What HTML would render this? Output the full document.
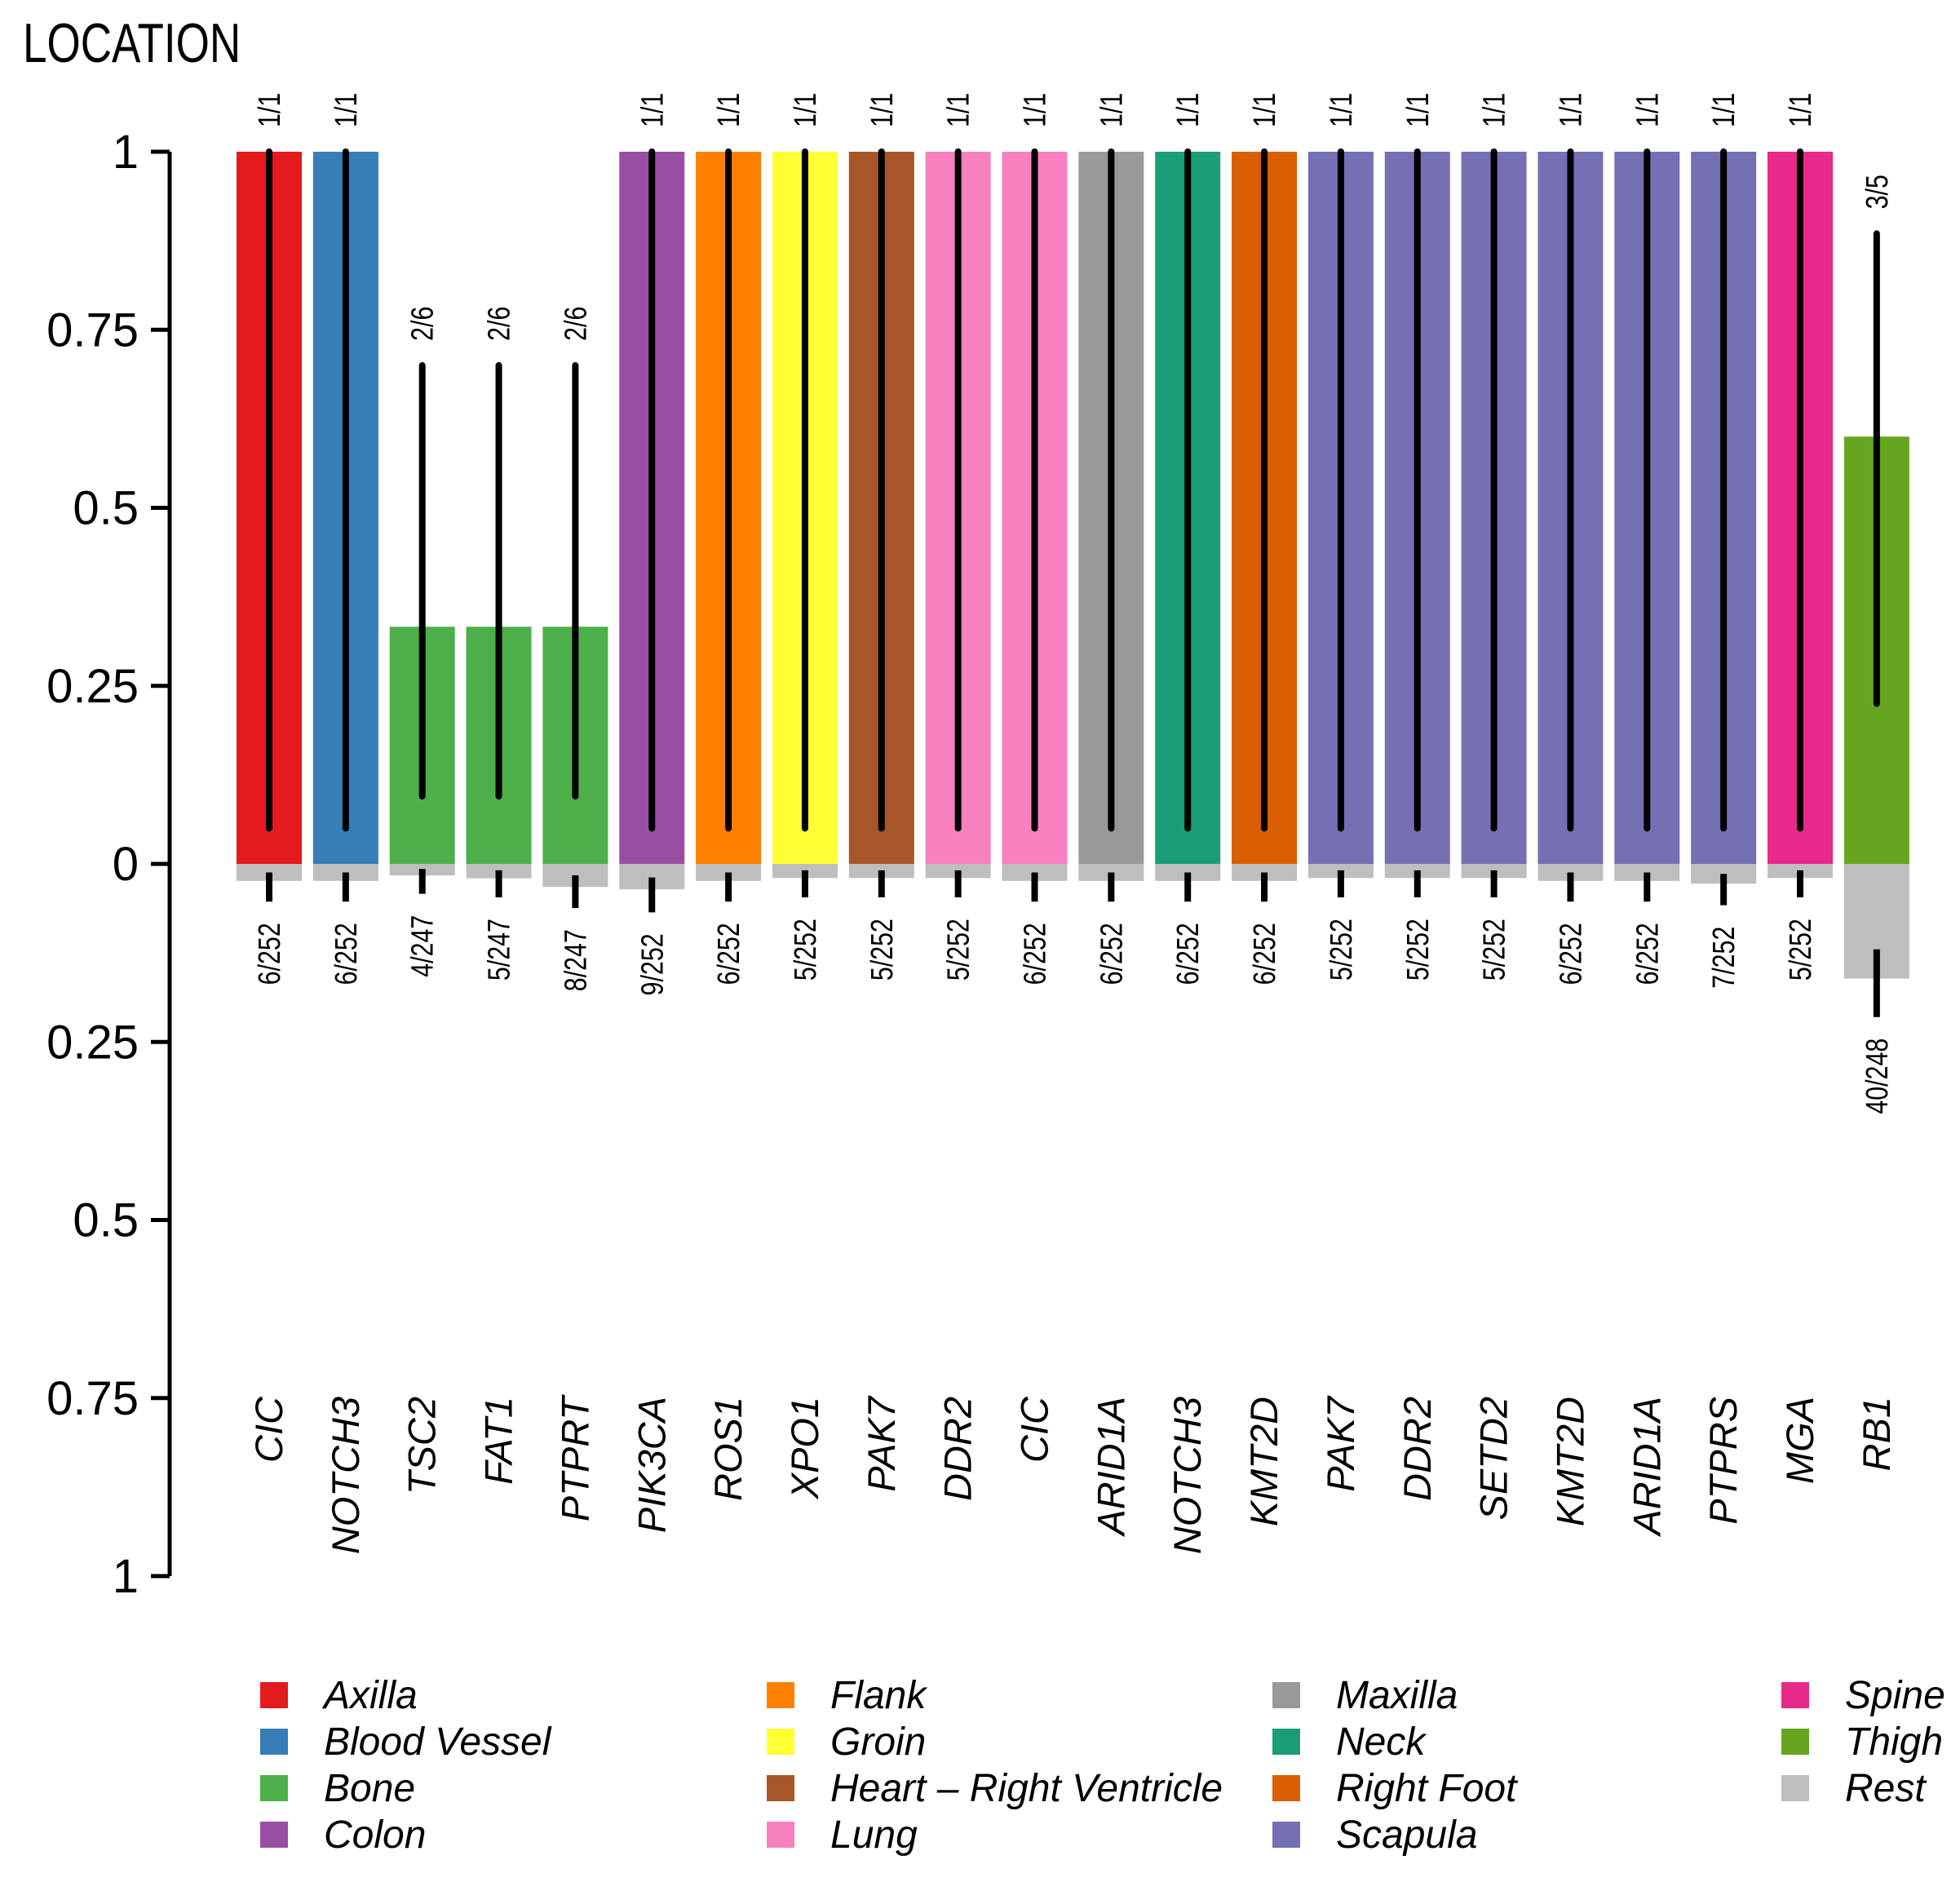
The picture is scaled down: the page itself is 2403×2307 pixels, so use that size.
<!DOCTYPE html>
<html><head><meta charset="utf-8">
<style>
html,body{margin:0;padding:0;background:#fff;}
svg{display:block;font-family:"Liberation Sans",sans-serif;}
</style></head>
<body>
<svg id="chart" width="2403" height="2307" viewBox="0 0 2403 2307">
<text x="28" y="76" font-size="68" transform="translate(28 0) scale(0.78 1) translate(-28 0)">LOCATION</text>
<g id="axis"></g>
<g id="bars"></g>
<g id="legend"></g>
</svg>
<script>
const genes = ["CIC","NOTCH3","TSC2","FAT1","PTPRT","PIK3CA","ROS1","XPO1","PAK7","DDR2","CIC","ARID1A","NOTCH3","KMT2D","PAK7","DDR2","SETD2","KMT2D","ARID1A","PTPRS","MGA","RB1"];
const locations = ["Axilla","Blood Vessel","Bone","Bone","Bone","Colon","Flank","Groin","Heart – Right Ventricle","Lung","Lung","Maxilla","Neck","Right Foot","Scapula","Scapula","Scapula","Scapula","Scapula","Scapula","Spine","Thigh"];
const upperValues = [1,1,0.333,0.333,0.333,1,1,1,1,1,1,1,1,1,1,1,1,1,1,1,1,0.6];
const upperLow = [0.05,0.05,0.095,0.095,0.095,0.05,0.05,0.05,0.05,0.05,0.05,0.05,0.05,0.05,0.05,0.05,0.05,0.05,0.05,0.05,0.05,0.225];
const upperHigh = [1,1,0.70,0.70,0.70,1,1,1,1,1,1,1,1,1,1,1,1,1,1,1,1,0.885];
const upperLabels = ["1/1","1/1","2/6","2/6","2/6","1/1","1/1","1/1","1/1","1/1","1/1","1/1","1/1","1/1","1/1","1/1","1/1","1/1","1/1","1/1","1/1","3/5"];
const lowerValues = [0.0238,0.0238,0.0162,0.0202,0.0324,0.0357,0.0238,0.0198,0.0198,0.0198,0.0238,0.0238,0.0238,0.0238,0.0198,0.0198,0.0198,0.0238,0.0238,0.0278,0.0198,0.161];
const lowerLow = [0.012,0.012,0.007,0.009,0.016,0.019,0.012,0.009,0.009,0.009,0.012,0.012,0.012,0.012,0.009,0.009,0.009,0.012,0.012,0.014,0.009,0.12];
const lowerHigh = [0.053,0.053,0.042,0.047,0.062,0.068,0.053,0.047,0.047,0.047,0.053,0.053,0.053,0.053,0.047,0.047,0.047,0.053,0.053,0.058,0.047,0.215];
const lowerLabels = ["6/252","6/252","4/247","5/247","8/247","9/252","6/252","5/252","5/252","5/252","6/252","6/252","6/252","6/252","5/252","5/252","5/252","6/252","6/252","7/252","5/252","40/248"];
const tickValues = [1,0.75,0.5,0.25,0,-0.25,-0.5,-0.75,-1];
const tickLabels = ["1","0.75","0.5","0.25","0","0.25","0.5","0.75","1"];
const legendNames = ["Axilla","Blood Vessel","Bone","Colon","Flank","Groin","Heart – Right Ventricle","Lung","Maxilla","Neck","Right Foot","Scapula","Spine","Thigh","Rest"];
const legendColors = ["#E41A1C","#377EB8","#4DAF4A","#984EA3","#FF7F00","#FFFF33","#A65628","#F781BF","#999999","#1B9E77","#D95F02","#7570B3","#E7298A","#66A61E","#BEBEBE"];

const NS="http://www.w3.org/2000/svg";
const Y0=1059, YS=873;
const y = v => Y0 - v*YS;
const x = i => 330 + i*93.85;
const BW = 80;
function mk(tag, attrs, parent){const e=document.createElementNS(NS,tag);for(const k in attrs)e.setAttribute(k,attrs[k]);parent.appendChild(e);return e;}
const colorOf = loc => legendColors[legendNames.indexOf(loc)];

const axis=document.getElementById('axis');
let line=mk('line',{x1:208,x2:208,y1:y(1),y2:y(-1),stroke:'#000','stroke-width':5},axis);


tickValues.forEach((v,i)=>{
  const t=mk('line',{x1:185,x2:208,y1:y(v),y2:y(v),stroke:'#000','stroke-width':5},axis);
  
  
  const l=mk('text',{x:170,y:y(v)+20,'font-size':58,'text-anchor':'end'},axis);
  l.textContent=tickLabels[i];
  
  
});

const bars=document.getElementById('bars');
genes.forEach((g,i)=>{
  const cx=x(i);
  const r=mk('rect',{x:cx-BW/2,y:y(upperValues[i]),width:BW,height:y(0)-y(upperValues[i]),fill:colorOf(locations[i])},bars);
  
  
  const r2=mk('rect',{x:cx-BW/2,y:y(0),width:BW,height:y(-lowerValues[i])-y(0),fill:'#BEBEBE'},bars);
  
  
  const e1=mk('line',{x1:cx,x2:cx,y1:y(upperLow[i]),y2:y(upperHigh[i]),stroke:'#000','stroke-width':8,'stroke-linecap':'round'},bars);
  
  
  const e2=mk('line',{x1:cx,x2:cx,y1:y(-lowerLow[i]),y2:y(-lowerHigh[i]),stroke:'#000','stroke-width':8},bars);
  
  
  const ty=y(upperHigh[i])-30;
  const ul=mk('text',{x:0,y:0,'font-size':38,transform:`translate(${cx+13} ${ty}) rotate(-90) scale(0.8 1)`},bars);
  ul.textContent=upperLabels[i];
  
  
  const by=y(-lowerHigh[i])+26;
  const ll=mk('text',{x:0,y:0,'font-size':38,'text-anchor':'end',transform:`translate(${cx+13} ${by}) rotate(-90) scale(0.8 1)`},bars);
  ll.textContent=lowerLabels[i];
  
  
  const gl=mk('text',{x:0,y:0,'font-size':47,'font-style':'italic','text-anchor':'end',transform:`translate(${cx+16} 1712) rotate(-90)`},bars);
  gl.textContent=g;
  
  
});

const legend=document.getElementById('legend');
const colX=[319,940,1560,2184];
legendNames.forEach((n,i)=>{
  const c=Math.floor(i/4), r=i%4;
  const ly=2088+r*57;
  const sq=mk('rect',{x:colX[c],y:ly-26,width:34,height:32,fill:legendColors[i]},legend);
  
  
  const t=mk('text',{x:colX[c]+78,y:ly+6,'font-size':48,'font-style':'italic'},legend);
  t.textContent=n;
  
  
});
</script>
</body></html>
